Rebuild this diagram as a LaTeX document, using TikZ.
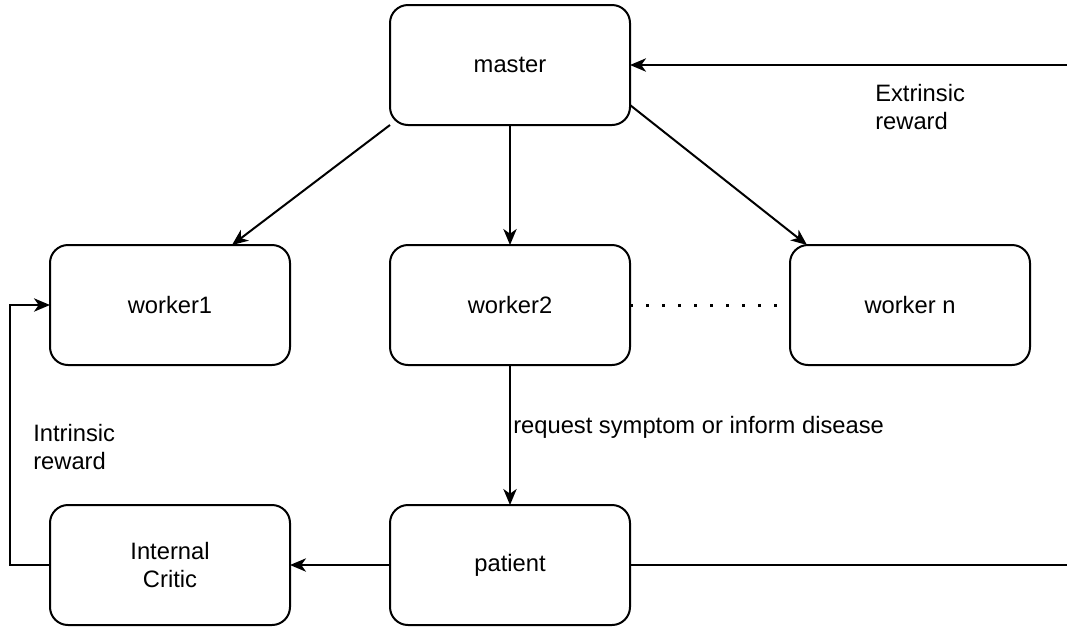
\documentclass[tikz,border=0pt]{standalone}
\usepackage{fontspec}
\setmainfont{Liberation Sans}
\usetikzlibrary{arrows.meta,calc}
\begin{document}
\begin{tikzpicture}[x=0.75pt,y=-0.75pt,
  font=\fontsize{17.8}{20.5}\selectfont,
  box/.style={draw,line width=1.5pt,rounded corners=13.5pt,minimum width=180pt,
    minimum height=90pt,inner sep=0pt,outer sep=0pt,align=center},
  link/.style={line width=1.5pt,-{Stealth[length=12pt,width=10pt,inset=3.5pt]}},
  plain/.style={line width=1.5pt},
  lbl/.style={anchor=west,align=left,inner sep=0pt}]
\useasboundingbox (0,0) rectangle (1067,626);

% boxes
\node[box] (master)  at (510,65)  {master};
\node[box] (worker1) at (170,305) {worker1};
\node[box] (worker2) at (510,305) {worker2};
\node[box] (workern) at (910,305) {worker n};
\node[box] (critic)  at (170,565) {Internal\\Critic};
\node[box] (patient) at (510,565) {patient};

% loose ends on the right border
\coordinate (envin)  at (1067,65);
\coordinate (envout) at (1067,565);

% master to workers
\draw[link] (master.south west) -- ($(worker1.north)+(62,0)$);
\draw[link] (master.south) -- (worker2.north);
\draw[link] ($(master.east)+(0,40)$) -- ($(workern.north)+(-103,0)$);

% rewards
\draw[link] (envin) -- (master.east);
\node[lbl] (extr) at (875,107) {Extrinsic\\reward};
\draw[plain] (patient.east) -- (envout);
\draw[link] (patient.west) -- (critic.east);
\draw[link] (critic.west) -- ++(-40,0) |- (worker1.west);
\node[lbl] (intr) at (33,447) {Intrinsic\\reward};

% action
\draw[link] (worker2.south) -- (patient.north);
\node[lbl] (act) at (513,427) {request symptom or inform disease};

% further workers
\draw[line width=2.25pt,dash pattern=on 2.25pt off 9.75pt] (worker2.east) -- (workern.west);
\end{tikzpicture}
\end{document}
